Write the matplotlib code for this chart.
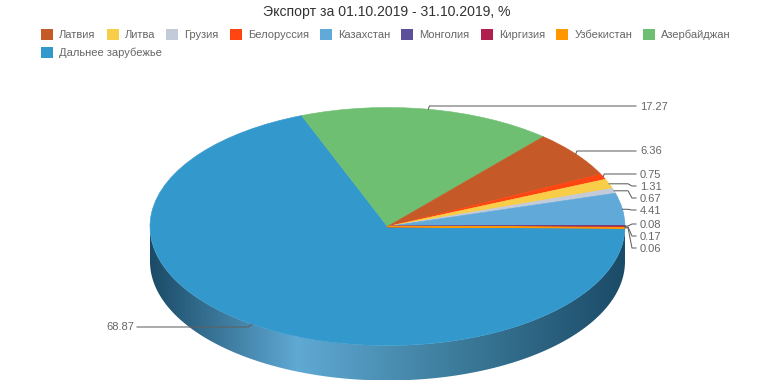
import numpy as np
import matplotlib
matplotlib.use('Agg')
import matplotlib.pyplot as plt
from matplotlib.colors import LinearSegmentedColormap
from matplotlib.patches import Patch, Polygon

plt.rcParams['font.family'] = ['Liberation Sans', 'DejaVu Sans']

# clockwise order as drawn on the pie
names = ['Азербайджан', 'Латвия', 'Белоруссия', 'Литва', 'Грузия', 'Казахстан',
         'Монголия', 'Киргизия', 'Узбекистан', 'Дальнее зарубежье']
values = [17.27, 6.36, 0.75, 1.31, 0.67, 4.41, 0.08, 0.17, 0.06, 68.87]
colors = ['#6fbf73', '#c55a28', '#ff4612', '#f8cd47', '#c3cad9', '#60a9d8',
          '#5c509b', '#b0204f', '#ff9800', '#3398cc']
label_y = [106, 151, 174, 186, 198, 210, 224, 236, 248, 327]

legend_row1 = ['Латвия', 'Литва', 'Грузия', 'Белоруссия', 'Казахстан',
               'Монголия', 'Киргизия', 'Узбекистан', 'Азербайджан']
legend_row2 = ['Дальнее зарубежье']

title = 'Экспорт за 01.10.2019 - 31.10.2019, %'

WIDTH, HEIGHT = 774, 387
CX, CY, RX, RY, DEPTH = 387.5, 226.5, 237.5, 119, 35
START_ANGLE = 111.2

fig = plt.figure(figsize=(WIDTH / 100, HEIGHT / 100), dpi=100)

# pixel axes for the rim
ax = fig.add_axes([0, 0, 1, 1], zorder=1)
ax.axis('off')

# rim of the pie, horizontal gradient clipped to the lower half
rim_cmap = LinearSegmentedColormap.from_list(
    'rim', [(0, '#1b4b67'), (0.31, '#5fa9d4'), (0.62, '#3f7f9f'), (1, '#1b4b67')])
t = np.linspace(0, np.pi, 200)
rim_x = CX + RX * np.cos(t)
rim_y = CY + RY * np.sin(t)
rim_xy = np.column_stack([np.r_[rim_x, rim_x[::-1]],
                          np.r_[rim_y, rim_y[::-1] + DEPTH]])
img = ax.imshow(np.linspace(0, 1, 256).reshape(1, -1), cmap=rim_cmap, aspect='auto',
                extent=[CX - RX, CX + RX, CY + RY + DEPTH, CY])
ax.set_xlim(0, WIDTH)
ax.set_ylim(HEIGHT, 0)
rim = Polygon(rim_xy, closed=True, transform=ax.transData, facecolor='none', edgecolor='none')
ax.add_patch(rim)
img.set_clip_path(rim)

# top face, a pie squashed into an ellipse
pie_ax = fig.add_axes([(CX - RX) / WIDTH, 1 - (CY + RY) / HEIGHT,
                       2 * RX / WIDTH, 2 * RY / HEIGHT], zorder=2)
wedges, _ = pie_ax.pie(values, colors=colors, startangle=START_ANGLE, counterclock=False,
                       radius=1)
for wedge, col, val in zip(wedges, colors, values):
    wedge.set_edgecolor(col)
    # the thinnest slices are about 3 px wide in the reference
    wedge.set_linewidth(1.0 if val < 0.2 else 0.4)
wedges[-1].set_zorder(wedges[-2].get_zorder() - 1)
pie_ax.set_aspect('auto')
pie_ax.set_xlim(-1, 1)
pie_ax.set_ylim(-1, 1)
pie_ax.axis('off')

# connectors and value labels go above the pie
over = fig.add_axes([0, 0, 1, 1], zorder=3)
over.set_xlim(0, WIDTH)
over.set_ylim(HEIGHT, 0)
over.axis('off')

line_color = '#606060'
for wedge, val, ly in zip(wedges, values, label_y):
    mid = np.radians((wedge.theta1 + wedge.theta2) / 2)
    x0 = CX + RX * np.cos(mid)
    y0 = CY - RY * np.sin(mid)
    if x0 < CX:
        xs = [x0, x0 - 4, 137]
        ys = [y0, ly, ly]
        over.text(134, ly + 0.5, f'{val:.2f}', ha='right', va='center', fontsize=8, color='#666666')
    else:
        if x0 < 605:
            xs = [x0, x0 + 1, 636]
            ys = [y0, ly, ly]
        else:
            xs = [x0, max(x0, 628), 632, 636]
            ys = [y0, y0, ly, ly]
        over.text(640, ly + 0.5, f'{val:.2f}', ha='left', va='center', fontsize=8, color='#666666')
    over.plot(xs, ys, color=line_color, lw=0.75, solid_joinstyle='round')

over.text(387, 12, title, ha='center', va='center', fontsize=10.1, color='#333333')

color_of = dict(zip(names, colors))


def add_legend(row, top):
    handles = [Patch(facecolor=color_of[n], edgecolor='none', label=n) for n in row]
    return over.legend(handles=handles, ncol=len(row), loc='upper left',
                       bbox_to_anchor=(41, top), bbox_transform=over.transData,
                       frameon=False, fontsize=8, labelcolor='#666666',
                       handlelength=1.08, handleheight=1.08, handletextpad=0.55,
                       columnspacing=1.0, borderpad=0, borderaxespad=0)


over.add_artist(add_legend(legend_row1, 29))
add_legend(legend_row2, 47)

fig.savefig('out.png', dpi=100)
